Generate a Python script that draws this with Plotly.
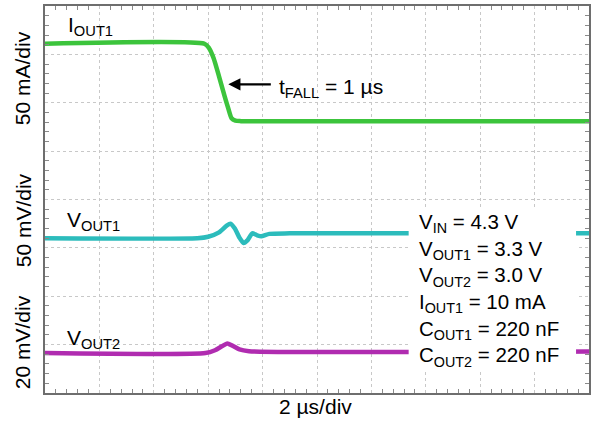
import plotly.graph_objects as go

# ---- waveform data (time in microseconds) ----
t_iout1 = [0, 5.85, 6.02, 6.20, 6.40, 6.60, 6.75, 6.86, 7.00, 7.20, 20]
iout1_ma = [90, 90, 86, 75, 56, 36, 22, 13, 10.5, 10, 10]

t_vout1 = [0, 5.6, 6.0, 6.4, 6.68, 6.82, 6.98, 7.14, 7.30, 7.45, 7.62, 7.80, 7.95, 8.25, 9.0, 20]
vout1_mv = [0, 0, 1.5, 6, 13, 15, 10, 1, -5, -2, 5, 3, 2, 4.5, 5, 5]

t_vout2 = [0, 5.9, 6.25, 6.5, 6.7, 6.9, 7.15, 7.5, 20]
vout2_mv = [0, 0, 1.2, 2.8, 4.0, 3.0, 1.5, 0.8, 0.7]

# scope channel settings: (per-division scale, value shown at the bottom of the screen)
N_DIV_Y = 8
iout1_scale, iout1_bottom = 50, -271     # mA/div
vout1_scale, vout1_bottom = 50, -160     # mV/div
vout2_scale, vout2_bottom = 20, -16.5    # mV/div

params = [
    "V<sub>IN</sub> = 4.3 V",
    "V<sub>OUT1</sub> = 3.3 V",
    "V<sub>OUT2</sub> = 3.0 V",
    "I<sub>OUT1</sub> = 10 mA",
    "C<sub>OUT1</sub> = 220 nF",
    "C<sub>OUT2</sub> = 220 nF",
]

FONT = "Liberation Sans, Arial, sans-serif"
GREEN = "#3cc43c"
CYAN = "#2cbcbc"
MAGENTA = "#b02cb0"

fig = go.Figure()
fig.add_trace(go.Scatter(x=t_iout1, y=iout1_ma, yaxis="y2", mode="lines",
                         line=dict(color=GREEN, width=4.5, shape="spline", smoothing=0.6)))
fig.add_trace(go.Scatter(x=t_vout1, y=vout1_mv, yaxis="y3", mode="lines",
                         line=dict(color=CYAN, width=4.5, shape="spline", smoothing=0.6)))
fig.add_trace(go.Scatter(x=t_vout2, y=vout2_mv, yaxis="y4", mode="lines",
                         line=dict(color=MAGENTA, width=4.5, shape="spline", smoothing=0.6)))

grid = dict(showgrid=True, gridcolor="#c8c8c8", griddash="dot", gridwidth=1,
            zeroline=False, showticklabels=False, showline=True, linecolor="#6e6e6e",
            linewidth=2, mirror="allticks", ticks="inside", ticklen=0, tickcolor="#8a8a8a")

def ch_axis(scale, bottom):
    return dict(overlaying="y", visible=False, range=[bottom, bottom + N_DIV_Y * scale],
                fixedrange=True)

center_tick = dict(overlaying="x", anchor="free", position=0.5, range=[0, 20],
                   showline=True, linecolor="#b4b4b4", linewidth=1, showgrid=False,
                   zeroline=False, showticklabels=False, tickmode="linear", tick0=0,
                   dtick=0.4, ticklen=3, tickcolor="#9a9a9a")
center_tick_y = dict(overlaying="y", anchor="free", position=0.5, range=[0, N_DIV_Y],
                     showline=True, linecolor="#b4b4b4", linewidth=1, showgrid=False,
                     zeroline=False, showticklabels=False, tickmode="linear", tick0=0,
                     dtick=0.2, ticklen=3, tickcolor="#9a9a9a")

fig.update_layout(
    width=594, height=421,
    margin=dict(l=45, r=3, t=6, b=28),
    paper_bgcolor="white", plot_bgcolor="white",
    showlegend=False,
    font=dict(family=FONT, size=21, color="black"),
    xaxis=dict(range=[0, 20], dtick=2, tick0=0,
               minor=dict(dtick=0.4, ticks="inside", ticklen=4, tickcolor="#8a8a8a"),
               **grid),
    yaxis=dict(range=[0, N_DIV_Y], dtick=1, tick0=0,
               minor=dict(dtick=0.2, ticks="inside", ticklen=4, tickcolor="#8a8a8a"),
               **grid),
    yaxis2=ch_axis(iout1_scale, iout1_bottom),
    yaxis3=ch_axis(vout1_scale, vout1_bottom),
    yaxis4=ch_axis(vout2_scale, vout2_bottom),
    xaxis2=dict(side="bottom", ticks="outside", **center_tick),
    xaxis3=dict(side="top", ticks="outside", **center_tick),
    yaxis5=dict(side="left", ticks="outside", **center_tick_y),
    yaxis6=dict(side="right", ticks="outside", **center_tick_y),
)

# white panel with the test conditions
fig.add_shape(type="rect", xref="paper", yref="paper",
              x0=(410 - 45) / 546, x1=(578 - 45) / 546,
              y0=(393 - 372) / 387, y1=(393 - 210) / 387,
              fillcolor="white", line=dict(width=0), layer="above")
fig.add_annotation(xref="paper", yref="paper", x=(418 - 45) / 546, y=(393 - 290) / 387,
                   xanchor="left", yanchor="middle", align="left", showarrow=False,
                   text="<br>".join(params), font=dict(size=20.5))

# trace labels
fig.add_annotation(xref="paper", yref="paper", x=(66 - 45) / 546, y=0.949,
                   xanchor="left", yanchor="middle", showarrow=False,
                   text="I<sub>OUT1</sub>")
fig.add_annotation(xref="paper", yref="paper", x=(65 - 45) / 546, y=0.445,
                   xanchor="left", yanchor="middle", showarrow=False,
                   text="V<sub>OUT1</sub>")
fig.add_annotation(xref="paper", yref="paper", x=(65 - 45) / 546, y=0.140,
                   xanchor="left", yanchor="middle", showarrow=False,
                   text="V<sub>OUT2</sub>")

# channel scale labels
for label, yc in [("50 mA/div", 0.814), ("50 mV/div", 0.447), ("20 mV/div", 0.132)]:
    fig.add_annotation(xref="paper", yref="paper", x=-0.040, y=yc, textangle=-90,
                       xanchor="center", yanchor="middle", showarrow=False, text=label)
fig.add_annotation(xref="paper", yref="paper", x=0.498, y=-0.036,
                   xanchor="center", yanchor="middle", showarrow=False, text="2 µs/div")

# fall-time callout
fig.add_annotation(x=6.74, y=6.38, xref="x", yref="y", ax=44, ay=0, text="",
                   showarrow=True, arrowhead=2, arrowsize=1.1, arrowwidth=2.2,
                   arrowcolor="black")
fig.add_annotation(xref="paper", yref="paper", x=(278 - 45) / 546, y=0.789,
                   xanchor="left", yanchor="middle", showarrow=False,
                   text="t<sub>FALL</sub> = 1 µs")

fig.write_html("out.html")
